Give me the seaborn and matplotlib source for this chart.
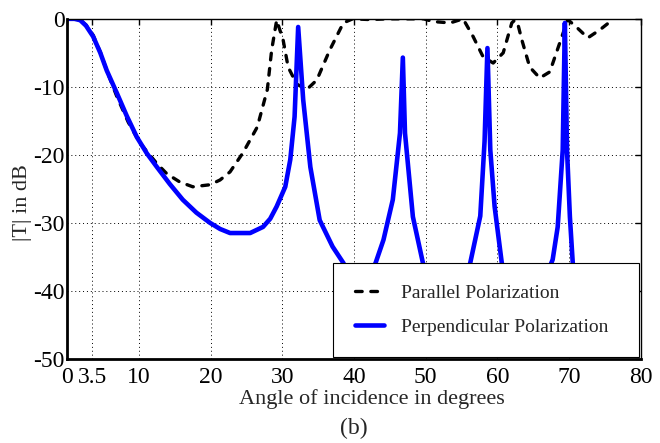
import pandas as pd
import seaborn as sns
import matplotlib.pyplot as plt

# |T| (dB) vs angle of incidence
par_angle = [0, 1.0, 1.8, 2.6, 3.6, 4.6, 5.5, 6.9, 8.5, 10.1, 11.1, 12.5, 13.9, 15.7, 17.5,
             19.9, 21.3, 22.7, 24.5, 26.5, 27.9, 28.5, 29.2, 30.1, 30.8, 32.0, 33.4, 34.8,
             36.6, 38.5, 39.8, 42.0, 45.0, 48.0, 49.7, 51.0, 53.4, 55.2, 56.6, 58.0, 59.4,
             60.8, 62.0, 62.4, 62.8, 63.4, 64.5, 65.9, 67.3, 68.7, 69.8, 71.1, 72.6, 74.3,
             76.1]
par_db = [0, 0, -0.2, -0.9, -2.4, -4.9, -7.6, -11.4, -15.2, -18.2, -19.5, -21.3, -22.8, -24.0, -24.7,
          -24.4, -23.7, -22.5, -19.7, -15.9, -10.4, -4.6, -0.2, -3.1, -7.1, -9.6, -10.4, -9.0,
          -4.6, -0.6, 0, -0.1, 0, 0, 0, -0.4, -0.6, 0, -2.6, -5.6, -6.5,
          -5.0, -0.6, -0.2, -0.6, -3.1, -7.1, -8.7, -7.8, -3.5, -0.1, -1.3, -2.8, -1.6,
          -0.1]

perp_angle = [0, 1.0, 1.8, 2.6, 3.6, 4.6, 5.5, 6.9, 8.3, 9.7, 11.1, 12.5, 14.3, 16.1, 18.0,
              19.9, 21.3, 22.7, 25.5, 27.3, 28.3, 29.2, 30.4, 31.1, 31.7, 32.2, 32.9, 33.9,
              35.2, 37.0, 38.5, 40.5, 42.5, 43.0, 44.1, 45.4, 46.4, 46.8, 47.1, 48.2, 49.6,
              51.0, 53.0, 55.0, 56.2, 57.6, 58.2, 58.6, 59.0, 59.6, 60.6, 62.0, 64.0, 66.0,
              67.7, 68.4, 69.1, 69.4, 69.7, 70.1, 70.5, 72.0, 74.0, 76.0, 78.0]
perp_db = [0, 0, -0.2, -1.0, -2.6, -5.0, -7.6, -10.9, -14.3, -17.4, -19.8, -21.8, -24.3, -26.6, -28.5,
           -30.0, -30.9, -31.5, -31.5, -30.6, -29.4, -27.6, -24.7, -20.7, -14.4, -1.2, -11.9, -21.8,
           -29.6, -33.5, -35.9, -40.0, -37.0, -35.9, -32.5, -26.6, -16.8, -5.7, -16.8, -29.1, -35.9,
           -40.0, -44.0, -40.0, -35.9, -29.0, -18.0, -4.3, -19.3, -27.6, -35.9, -40.0, -44.0, -40.0,
           -35.4, -30.6, -19.3, -0.6, -19.3, -29.1, -35.9, -42.0, -46.0, -47.0, -47.0]

xtick_vals = [0, 3.5, 10, 20, 30, 40, 50, 60, 70, 80]
xtick_labels = ["0", "3.5", "10", "20", "30", "40", "50", "60", "70", "80"]
ytick_vals = [0, -10, -20, -30, -40, -50]

par = pd.DataFrame({"angle": par_angle, "T": par_db})
perp = pd.DataFrame({"angle": perp_angle, "T": perp_db})

sns.set_style("white")
plt.rcParams['font.family'] = ['Liberation Serif', 'DejaVu Serif']
plt.rcParams['axes.unicode_minus'] = False

fig = plt.figure(figsize=(6.6, 4.43), dpi=100)
ax = fig.add_axes([0.102, 0.19, 0.869, 0.7675])

sns.lineplot(data=par, x="angle", y="T", ax=ax, color="black", lw=2.4,
             linestyle=(0, (2.0, 2.6)), dash_capstyle="round",
             sort=False, estimator=None, label="Parallel Polarization")
sns.lineplot(data=perp, x="angle", y="T", ax=ax, color="#0000ff", lw=3.3,
             sort=False, estimator=None, label="Perpendicular Polarization")

ax.set_xlim(0, 80)
ax.set_ylim(-50, 0)
ax.set_xticks(xtick_vals)
ax.set_xticklabels(xtick_labels)
ax.set_yticks(ytick_vals)
ax.set_yticklabels([str(v) for v in ytick_vals])
ax.tick_params(direction="in", length=4, width=1, top=True, right=True,
               labelsize=17, colors="black")
ax.tick_params(axis="x", pad=6)
ax.tick_params(axis="y", pad=2)
ax.grid(True, color="black", linestyle=(0, (1, 3)), lw=0.7)

for side in ["left", "bottom"]:
    ax.spines[side].set_linewidth(2.0)
for side in ["top", "right"]:
    ax.spines[side].set_linewidth(1.0)
for s in ax.spines.values():
    s.set_color("black")

ax.set_xlabel("Angle of incidence in degrees", fontsize=16)
ax.xaxis.set_label_coords(0.531, -0.09)
ax.set_ylabel("|T| in dB", fontsize=16)
ax.yaxis.set_label_coords(-0.062, 0.46)
fig.text(0.536, 0.033, "(b)", fontsize=17, ha="center", va="center")

leg = ax.legend(loc="upper left", bbox_to_anchor=(0.464, 0.0, 0.5325, 0.282), mode="expand",
                fontsize=14, frameon=True, fancybox=False, framealpha=1, edgecolor="black",
                borderpad=1.1, labelspacing=0.85, handlelength=1.5, handletextpad=0.9,
                borderaxespad=0)
leg.get_frame().set_linewidth(0.8)

plt.savefig("out.png", dpi=100)
